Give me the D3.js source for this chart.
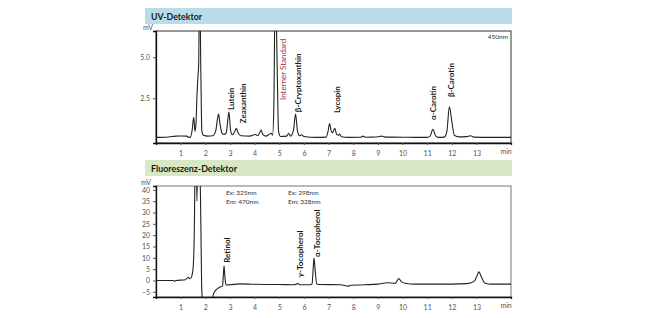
<!DOCTYPE html>
<html><head><meta charset="utf-8">
<script src="https://cdn.jsdelivr.net/npm/d3@7"></script>
<style>
html,body{margin:0;padding:0;background:#fff;}
svg{display:block;font-family:Lato,"Open Sans",sans-serif;}
</style></head>
<body><svg id="c" width="660" height="318"></svg>
<script>
// ---- data ----
const xTicks = [1,2,3,4,5,6,7,8,9,10,11,12,13];
const uvTicks = [2.5, 5.0];
const flTicks = [-5,0,5,10,15,20,25,30,35,40];

const uvTime = [0.0,0.5,0.8,1.0,1.25,1.33,1.40,1.47,1.53,1.58,1.62,1.66,1.70,1.73,1.77,1.82,1.86,1.92,2.1,2.3,2.42,2.50,2.54,2.60,2.68,2.75,2.85,2.92,2.96,3.02,3.10,3.20,3.26,3.33,3.45,3.8,4.03,4.12,4.22,4.27,4.33,4.45,4.68,4.73,4.78,4.84,4.92,4.97,5.05,5.3,5.38,5.46,5.58,5.66,5.74,5.82,5.90,6.0,6.5,6.9,6.98,7.04,7.10,7.16,7.25,7.33,7.40,7.45,7.52,7.8,8.3,8.4,8.5,8.8,9.0,9.15,9.3,10.0,10.5,11.0,11.12,11.23,11.35,11.45,11.7,11.8,11.9,12.0,12.1,12.3,12.6,12.76,12.9,13.5,14.4];
const uvSignal = [0.12,0.15,0.2,0.21,0.2,0.12,0.15,0.6,1.34,0.5,0.9,2.6,3.8,4.5,10,4,0.5,0.25,0.2,0.22,0.5,1.3,1.54,0.9,0.37,0.3,0.4,1.3,1.66,0.6,0.28,0.5,0.67,0.4,0.22,0.2,0.3,0.22,0.45,0.57,0.3,0.2,0.37,0.25,2,10,4,0.5,0.18,0.2,0.37,0.2,0.6,1.54,0.5,0.22,0.28,0.18,0.12,0.14,0.5,0.97,0.55,0.4,0.67,0.3,0.25,0.33,0.16,0.12,0.13,0.2,0.13,0.14,0.16,0.2,0.14,0.13,0.12,0.12,0.2,0.61,0.2,0.12,0.14,0.5,1.99,1.1,0.25,0.15,0.17,0.22,0.14,0.12,0.12];

const flTime = [0.0,0.7,0.75,0.8,1.2,1.30,1.36,1.42,1.50,1.55,1.60,1.63,1.66,1.70,1.74,1.80,1.86,1.90,1.95,2.25,2.31,2.40,2.50,2.62,2.70,2.73,2.76,2.80,2.84,3.0,3.4,4.0,5.0,5.6,5.72,5.76,5.82,6.25,6.33,6.38,6.41,6.46,6.52,6.6,7.5,7.8,7.9,8.5,9.0,9.4,9.7,9.85,9.95,10.1,10.5,12.0,12.6,12.9,13.0,13.1,13.2,13.35,13.6,14.4];
const flSignal = [0,0,-0.4,0,0.3,1.45,0.8,1.2,4.8,19,60,60,35,60,60,40,-5,-10,-12,-12,-6.8,-4.6,-3.6,-2.8,-2.5,2,6.5,1,-2.0,-1.9,-1.5,-1.7,-1.8,-1.9,-1.5,-1.4,-1.9,-1.9,-1.5,6,9.9,4,-1.6,-1.8,-1.9,-2.5,-2.1,-1.9,-1.6,-1.0,-1.3,0.8,-0.5,-1.2,-1.6,-1.6,-1.4,-0.4,1.5,3.8,1.5,-1.2,-1.6,-1.6];

const uvLabels = ["Lutein","Zeaxanthin","Interner Standard","β-Cryptoxanthin","Lycopin","α-Carotin","β-Carotin"];
const uvLabelTime = [3.03,3.51,5.14,5.74,7.33,11.22,11.95];
const uvLabelBase = [1.79,0.99,2.4,1.66,1.6,1.18,2.58];
const flLabels = ["Retinol","γ-Tocopherol","α-Tocopherol"];
const flLabelTime = [2.87,5.83,6.52];
const flLabelBase = [7.8,1.3,10.4];

// ---- drawing ----
const svg = d3.select("#c");
svg.append("rect").attr("width",660).attr("height",318).attr("fill","#fff");

function panel(cfg){
  const g = svg.append("g");
  // header band
  g.append("rect").attr("x",145).attr("y",cfg.bandY).attr("width",367).attr("height",16).attr("fill",cfg.bandColor);
  g.append("text").attr("x",151).attr("y",cfg.bandY+12).attr("font-size",10).attr("font-weight","bold")
    .attr("textLength",cfg.titleLen).attr("lengthAdjust","spacingAndGlyphs")
    .attr("fill","#1a1a1a").text(cfg.title);

  const x = d3.scaleLinear().domain([0,14.4]).range([156,511]);
  const y = d3.scaleLinear().domain(cfg.yDomain).range([cfg.bottom,cfg.top]);

  const clipId = "clip"+cfg.id;
  g.append("clipPath").attr("id",clipId).append("rect")
    .attr("x",156).attr("y",cfg.top).attr("width",355).attr("height",cfg.bottom-cfg.top);

  // frame
  g.append("rect").attr("x",156).attr("y",cfg.top).attr("width",355).attr("height",cfg.bottom-cfg.top)
    .attr("fill","none").attr("stroke",cfg.frame).attr("stroke-width",1);

  // x axis
  const xa = g.append("g").attr("transform",`translate(0,${cfg.bottom})`)
    .call(d3.axisBottom(x).tickValues(xTicks).tickSize(2).tickPadding(6).tickFormat(d3.format("d")));
  xa.select(".domain").attr("stroke","#111").attr("stroke-width",1.3);
  xa.selectAll("line").attr("stroke","#555");
  xa.selectAll("text").attr("font-size",7).attr("fill","#555").attr("font-family","Lato,sans-serif");
  g.append("text").attr("x",x(14.2)).attr("y",cfg.bottom+11).attr("text-anchor","middle")
    .attr("font-size",7).attr("fill","#555").text("min");

  // y axis
  const ya = g.append("g").attr("transform","translate(156,0)")
    .call(d3.axisLeft(y).tickValues(cfg.yTicks).tickSize(3).tickPadding(3).tickFormat(cfg.fmt));
  ya.select(".domain").attr("stroke","#111").attr("stroke-width",1.3);
  ya.selectAll("line").attr("stroke","#555");
  ya.selectAll("text").attr("font-size",7).attr("fill","#555").attr("font-family","Lato,sans-serif");
  g.append("text").attr("x",cfg.mvX).attr("y",cfg.top-1).attr("text-anchor","middle")
    .attr("font-size",7).attr("fill","#555").text("mV");

  // trace
  const pts = cfg.t.map((t,i)=>[t,cfg.v[i]]);
  g.append("path").attr("clip-path",`url(#${clipId})`)
    .attr("d",d3.line().x(d=>x(d[0])).y(d=>y(d[1])).curve(d3.curveMonotoneX)(pts))
    .attr("fill","none").attr("stroke","#222").attr("stroke-width",1.1);

  // labels
  cfg.labels.forEach((name,i)=>{
    const px = x(cfg.labelT[i])+3, py = y(cfg.labelB[i]);
    const isStd = name==="Interner Standard";
    g.append("text").attr("transform",`translate(${px},${py}) rotate(-90)`)
      .attr("font-size",8).attr("font-weight",isStd?"normal":"bold")
      .attr("fill",isStd?"#9b3b35":"#1a1a1a").text(name);
  });
  return {g,x,y};
}

const p1 = panel({id:1,bandY:8,bandColor:"#b9dde8",title:"UV-Detektor",titleLen:51,top:31,bottom:143,
  yDomain:[-0.22,6.6],yTicks:uvTicks,fmt:d3.format(".1f"),frame:"#333",mvX:148,
  t:uvTime,v:uvSignal,labels:uvLabels,labelT:uvLabelTime,labelB:uvLabelBase});
p1.g.append("text").attr("x",508).attr("y",39).attr("text-anchor","end").attr("font-size",6.5).attr("fill","#333").text("450nm");

const p2 = panel({id:2,bandY:160,bandColor:"#d8e7c4",title:"Fluoreszenz-Detektor",titleLen:86,top:186,bottom:297,
  yDomain:[-7.3,41.7],yTicks:flTicks,fmt:d3.format("d"),frame:"#777",mvX:146,
  t:flTime,v:flSignal,labels:flLabels,labelT:flLabelTime,labelB:flLabelBase});
[["Ex: 325nm",226,195],["Em: 470nm",226,204],["Ex: 298nm",288,195],["Em: 328nm",288,204]].forEach(d=>{
  p2.g.append("text").attr("x",d[1]).attr("y",d[2]).attr("font-size",6.5).attr("fill","#333").text(d[0]);
});
</script></body></html>
